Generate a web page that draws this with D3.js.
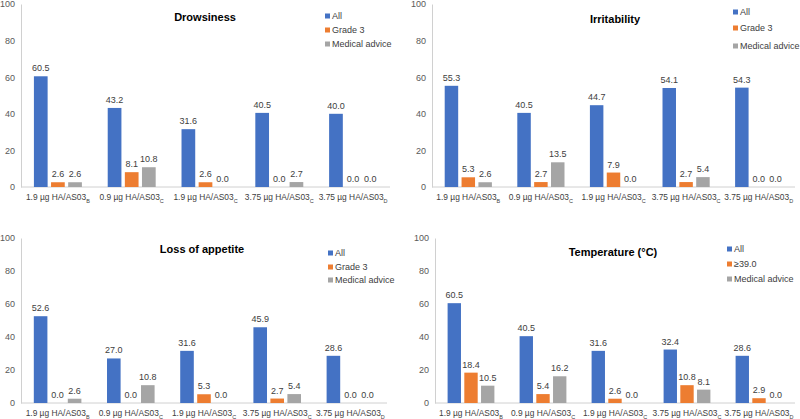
<!DOCTYPE html>
<html>
<head>
<meta charset="utf-8">
<script src="https://cdn.jsdelivr.net/npm/d3@7"></script>
<style>
  body { margin: 0; background: #fff; }
  svg { font-family: "Liberation Sans", Arial, sans-serif; }
</style>
</head>
<body>
<svg id="chart" width="800" height="419"></svg>
<script>
// categories (main text + subscript)
var categories = ["1.9 µg HA/AS03|B", "0.9 µg HA/AS03|C", "1.9 µg HA/AS03|C", "3.75 µg HA/AS03|C", "3.75 µg HA/AS03|D"];
var yTicks = [0, 20, 40, 60, 80, 100];
var colors = ["#4472C4", "#ED7D31", "#A5A5A5"];

// Drowsiness
var drowsAll = [60.5, 43.2, 31.6, 40.5, 40.0];
var drowsG3 = [2.6, 8.1, 2.6, 0.0, 0.0];
var drowsMed = [2.6, 10.8, 0.0, 2.7, 0.0];
// Irritability
var irritAll = [55.3, 40.5, 44.7, 54.1, 54.3];
var irritG3 = [5.3, 2.7, 7.9, 2.7, 0.0];
var irritMed = [2.6, 13.5, 0.0, 5.4, 0.0];
// Loss of appetite
var appAll = [52.6, 27.0, 31.6, 45.9, 28.6];
var appG3 = [0.0, 0.0, 5.3, 2.7, 0.0];
var appMed = [2.6, 10.8, 0.0, 5.4, 0.0];
// Temperature
var tempAll = [60.5, 40.5, 31.6, 32.4, 28.6];
var temp39 = [18.4, 5.4, 2.6, 10.8, 2.9];
var tempMed = [10.5, 16.2, 0.0, 8.1, 0.0];

var panels = [
  {title: "Drowsiness", series: ["All", "Grade 3", "Medical advice"], values: [drowsAll, drowsG3, drowsMed],
   x0: 21, x1: 390, top: 4, base: 187, titleX: 205, titleY: 21, legX: 325, legY: [16, 30, 44]},
  {title: "Irritability", series: ["All", "Grade 3", "Medical advice"], values: [irritAll, irritG3, irritMed],
   x0: 432, x1: 795, top: 4, base: 187, titleX: 615, titleY: 23, legX: 733, legY: [12, 28, 46]},
  {title: "Loss of appetite", series: ["All", "Grade 3", "Medical advice"], values: [appAll, appG3, appMed],
   x0: 21, x1: 387, top: 238, base: 403, titleX: 202, titleY: 253, legX: 328, legY: [253, 267, 280]},
  {title: "Temperature (°C)", series: ["All", "≥39.0", "Medical advice"], values: [tempAll, temp39, tempMed],
   x0: 435, x1: 795, top: 238, base: 403, titleX: 613, titleY: 256, legX: 727, legY: [249, 264, 279]}
];

var svg = d3.select("#chart");

panels.forEach(function(p) {
  var g = svg.append("g");

  var y = d3.scaleLinear().domain([0, 100]).range([p.base, p.top]);
  var x = d3.scaleBand().domain(d3.range(categories.length)).range([p.x0, p.x1]).paddingInner(0.35).paddingOuter(0.175);
  var xs = d3.scaleBand().domain([0, 1, 2]).range([0, x.bandwidth()]).paddingInner(0.2);

  // y axis
  var yAxis = g.append("g")
    .attr("transform", "translate(" + p.x0 + ",0)")
    .call(d3.axisLeft(y).tickValues(yTicks).tickSize(0).tickPadding(6));
  yAxis.select(".domain").attr("stroke", "#d0d0d0");
  yAxis.selectAll("text").attr("fill", "#595959").style("font-size", "9px");

  // x axis line
  g.append("line")
    .attr("x1", p.x0).attr("x2", p.x1)
    .attr("y1", p.base).attr("y2", p.base)
    .attr("stroke", "#d0d0d0");

  // category labels with subscript
  categories.forEach(function(c, i) {
    var parts = c.split("|");
    var t = g.append("text")
      .attr("x", x(i) + x.bandwidth() / 2)
      .attr("y", p.base + 13)
      .attr("text-anchor", "middle")
      .attr("fill", "#404040")
      .style("font-size", "8.4px");
    t.append("tspan").text(parts[0]);
    t.append("tspan").attr("dy", 2.5).style("font-size", "5.5px").text(parts[1]);
  });

  // bars
  p.values.forEach(function(vals, s) {
    g.selectAll(null)
      .data(vals)
      .enter()
      .append("rect")
        .attr("x", function(d, i) { return x(i) + xs(s); })
        .attr("y", function(d) { return y(d); })
        .attr("width", xs.bandwidth())
        .attr("height", function(d) { return p.base - y(d); })
        .attr("fill", colors[s]);

    g.selectAll(null)
      .data(vals)
      .enter()
      .append("text")
        .attr("x", function(d, i) { return x(i) + xs(s) + xs.bandwidth() / 2; })
        .attr("y", function(d) { return y(d) - 5; })
        .attr("text-anchor", "middle")
        .attr("fill", "#404040")
        .style("font-size", "9px")
        .text(function(d) { return d.toFixed(1); });
  });

  // title
  g.append("text")
    .attr("x", p.titleX).attr("y", p.titleY)
    .attr("text-anchor", "middle")
    .style("font-size", "11px").style("font-weight", "bold")
    .attr("fill", "#000")
    .text(p.title);

  // legend
  p.series.forEach(function(name, s) {
    g.append("rect")
      .attr("x", p.legX).attr("y", p.legY[s] - 2.5)
      .attr("width", 5).attr("height", 5)
      .attr("fill", colors[s]);
    g.append("text")
      .attr("x", p.legX + 7).attr("y", p.legY[s] + 3)
      .attr("fill", "#404040")
      .style("font-size", "9px")
      .text(name);
  });
});
</script>
</body>
</html>
